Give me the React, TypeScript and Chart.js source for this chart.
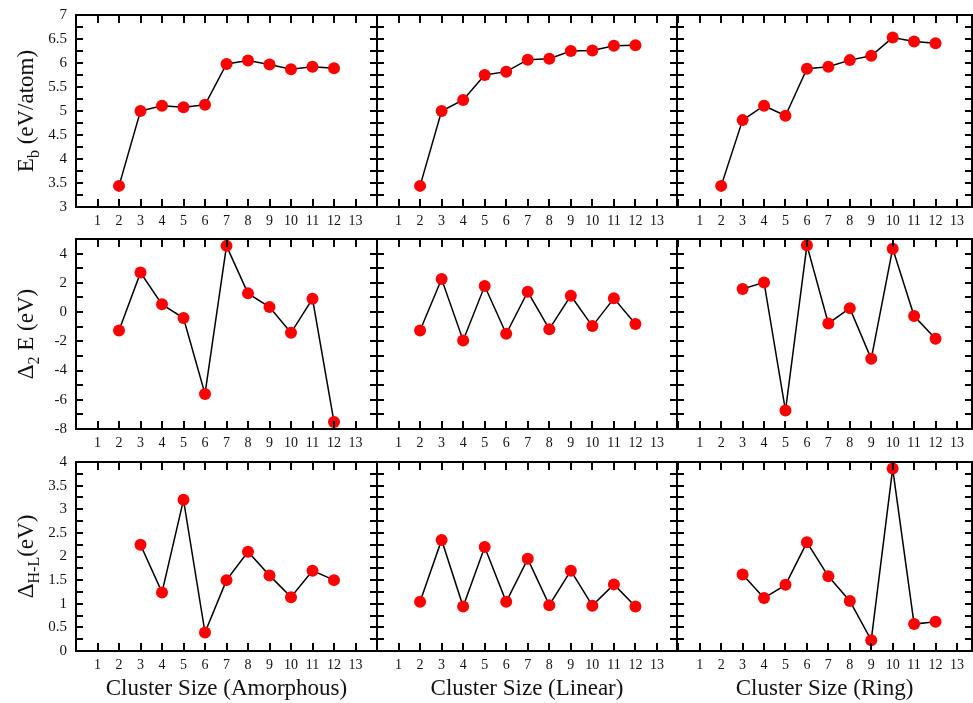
import React, { useEffect, useRef } from 'react';
import { Chart, registerables } from 'chart.js';

Chart.register(...registerables);

// ---------------- data ----------------
const clusterSizes = [2, 3, 4, 5, 6, 7, 8, 9, 10, 11, 12];

const ebAmorphous = [3.44, 5.0, 5.11, 5.08, 5.13, 5.98, 6.05, 5.97, 5.87, 5.92, 5.89];
const ebLinear = [3.44, 5.0, 5.23, 5.75, 5.82, 6.07, 6.09, 6.25, 6.26, 6.36, 6.37];
const ebRing = [3.44, 4.81, 5.11, 4.9, 5.88, 5.92, 6.06, 6.15, 6.53, 6.45, 6.41];

const d2Amorphous = [-1.26, 2.7, 0.53, -0.41, -5.6, 4.53, 1.28, 0.34, -1.42, 0.91, -7.52];
const d2Linear = [-1.26, 2.26, -1.94, 1.78, -1.49, 1.39, -1.17, 1.12, -0.96, 0.94, -0.82];
const d2Ring = [null, 1.58, 2.03, -6.74, 4.57, -0.78, 0.27, -3.2, 4.34, -0.27, -1.83];

const gapAmorphous = [null, 2.25, 1.24, 3.2, 0.39, 1.5, 2.1, 1.6, 1.14, 1.7, 1.5];
const gapLinear = [1.04, 2.35, 0.94, 2.2, 1.04, 1.95, 0.97, 1.7, 0.96, 1.41, 0.94];
const gapRing = [null, 1.62, 1.12, 1.4, 2.3, 1.58, 1.06, 0.23, 3.86, 0.57, 0.62];

const xTickLabels = ['1', '2', '3', '4', '5', '6', '7', '8', '9', '10', '11', '12', '13'];
const xTitles = ['Cluster Size (Amorphous)', 'Cluster Size (Linear)', 'Cluster Size (Ring)'];
const yTitles = [
  { main: 'E', sub: 'b', rest: ' (eV/atom)' },
  { main: '\u0394', sub: '2', rest: ' E (eV)' },
  { main: '\u0394', sub: 'H-L', rest: '(eV)' },
];
// [min, max, minor step, labelled step]
const yRanges = [
  [3, 7, 0.25, 0.5],
  [-8, 5, 1, 2],
  [0, 4, 0.25, 0.5],
];
const grid = [
  [ebAmorphous, ebLinear, ebRing],
  [d2Amorphous, d2Linear, d2Ring],
  [gapAmorphous, gapLinear, gapRing],
];

// ---------------- layout ----------------
const colLeft = [76, 377, 677];
const colRight = [377, 677, 972];
const xMin = [0, 0, -0.06];
const xMax = [14, 13.93, 13.7];
const rowTop = [15, 239, 462];
const rowBottom = [207, 429, 651];
const FONT = '"Liberation Serif", "Times New Roman", serif';
const PAD_SIDE = 10;
const PAD_TOP = 20;

const framePlugin = {
  id: 'frame',
  afterDatasetsDraw(chart: any) {
    const { ctx, chartArea, scales } = chart;
    const { left, right, top, bottom } = chartArea;
    const xs = scales.x;
    const ys = scales.y;
    ctx.save();
    ctx.strokeStyle = '#000';
    ctx.lineWidth = 2;
    ctx.beginPath();
    xs.ticks.forEach((t: any) => {
      if (t.value <= xs.min + 1e-9 || t.value >= xs.max - 1e-9) return;
      const px = Math.round(xs.getPixelForValue(t.value));
      ctx.moveTo(px, bottom);
      ctx.lineTo(px, bottom - 8);
      ctx.moveTo(px, top);
      ctx.lineTo(px, top + 8);
    });
    ys.ticks.forEach((t: any) => {
      if (t.value <= ys.min + 1e-9 || t.value >= ys.max - 1e-9) return;
      const py = Math.round(ys.getPixelForValue(t.value));
      ctx.moveTo(left, py);
      ctx.lineTo(left + 7, py);
      ctx.moveTo(right, py);
      ctx.lineTo(right - 7, py);
    });
    ctx.stroke();
    ctx.strokeRect(left, top, right - left, bottom - top);
    ctx.restore();
  },
};

const yTitlePlugin = {
  id: 'ytitle',
  afterDraw(chart: any, _args: any, opts: any) {
    if (!opts || !opts.main) return;
    const { ctx, chartArea } = chart;
    const fs = 23;
    const ss = 16;
    ctx.save();
    ctx.fillStyle = '#111';
    ctx.translate(opts.x, (chartArea.top + chartArea.bottom) / 2);
    ctx.rotate(-Math.PI / 2);
    ctx.textAlign = 'left';
    ctx.textBaseline = 'alphabetic';
    ctx.font = `${fs}px ${FONT}`;
    const wMain = ctx.measureText(opts.main).width;
    const wRest = ctx.measureText(opts.rest).width;
    ctx.font = `${ss}px ${FONT}`;
    const wSub = ctx.measureText(opts.sub).width;
    let cx = -(wMain + wSub + wRest) / 2;
    ctx.font = `${fs}px ${FONT}`;
    ctx.fillText(opts.main, cx, 0);
    cx += wMain;
    ctx.font = `${ss}px ${FONT}`;
    ctx.fillText(opts.sub, cx, 6);
    cx += wSub;
    ctx.font = `${fs}px ${FONT}`;
    ctx.fillText(opts.rest, cx, 0);
    ctx.restore();
  },
};

function Panel({ r, c }: { r: number; c: number }) {
  const ref = useRef<HTMLCanvasElement | null>(null);
  const padL = c === 0 ? 0 : PAD_SIDE;
  const yw = c === 0 ? colLeft[0] : 0;
  const canvasLeft = c === 0 ? 0 : colLeft[c] - PAD_SIDE;
  const canvasTop = rowTop[r] - PAD_TOP;
  const xh = r === 2 ? 703 - rowBottom[2] : 28;
  const w = colRight[c] + PAD_SIDE - canvasLeft;
  const h = rowBottom[r] + xh - canvasTop;

  useEffect(() => {
    const [ymin, ymax, ystep, ylab] = yRanges[r];
    const values = grid[r][c];
    const chart = new Chart(ref.current as HTMLCanvasElement, {
      type: 'line',
      data: {
        datasets: [
          {
            data: clusterSizes.map((x, i) => ({ x, y: values[i] })),
            showLine: true,
            borderColor: '#000',
            borderWidth: 1.5,
            pointRadius: 6,
            pointHoverRadius: 6,
            pointBackgroundColor: '#ff0000',
            pointBorderColor: '#ff0000',
            pointBorderWidth: 0,
            spanGaps: false,
            clip: false,
            tension: 0,
          } as any,
        ],
      },
      options: {
        animation: false,
        responsive: false,
        layout: { padding: { left: padL, right: PAD_SIDE, top: PAD_TOP, bottom: 0 } },
        plugins: {
          legend: { display: false },
          tooltip: { enabled: false },
          ytitle: c === 0 ? { ...yTitles[r], x: 33 } : {},
        } as any,
        scales: {
          x: {
            type: 'linear',
            min: xMin[c],
            max: xMax[c],
            grid: { display: false, drawTicks: false },
            border: { display: false },
            ticks: {
              stepSize: 1,
              includeBounds: false,
              autoSkip: false,
              maxRotation: 0,
              padding: 6,
              color: '#111',
              font: { family: FONT, size: 14 },
              callback: (v: any) => {
                const n = Number(v);
                return Number.isInteger(n) && n >= 1 && n <= 13 ? xTickLabels[n - 1] : '';
              },
            },
            title: {
              display: r === 2,
              text: xTitles[c],
              color: '#111',
              font: { family: FONT, size: 23, lineHeight: 1.2 },
              padding: { top: 0, bottom: 0 },
            },
            afterFit: (s: any) => {
              s.height = xh;
            },
          },
          y: {
            type: 'linear',
            min: ymin,
            max: ymax,
            grid: { display: false, drawTicks: false },
            border: { display: false },
            ticks: {
              display: c === 0,
              stepSize: ystep,
              autoSkip: false,
              padding: 9,
              color: '#111',
              font: { family: FONT, size: 15 },
              callback: (v: any) => {
                const n = Number(v);
                const k = n / ylab;
                return Math.abs(k - Math.round(k)) < 1e-6 ? String(Math.round(n * 100) / 100) : '';
              },
            },
            afterFit: (s: any) => {
              s.width = yw;
            },
          },
        } as any,
      },
      plugins: [framePlugin, yTitlePlugin],
    });
    return () => chart.destroy();
  }, [r, c]);

  return (
    <canvas
      ref={ref}
      width={w}
      height={h}
      style={{ position: 'absolute', left: canvasLeft, top: canvasTop, width: w, height: h }}
    />
  );
}

export default function App() {
  const cells: React.ReactNode[] = [];
  for (let r = 0; r < 3; r++) {
    for (let c = 0; c < 3; c++) {
      cells.push(<Panel key={`${r}-${c}`} r={r} c={c} />);
    }
  }
  return (
    <div
      style={{
        position: 'absolute',
        left: 0,
        top: 0,
        width: 973,
        height: 703,
        overflow: 'hidden',
        background: '#fff',
      }}
    >
      {cells}
    </div>
  );
}
